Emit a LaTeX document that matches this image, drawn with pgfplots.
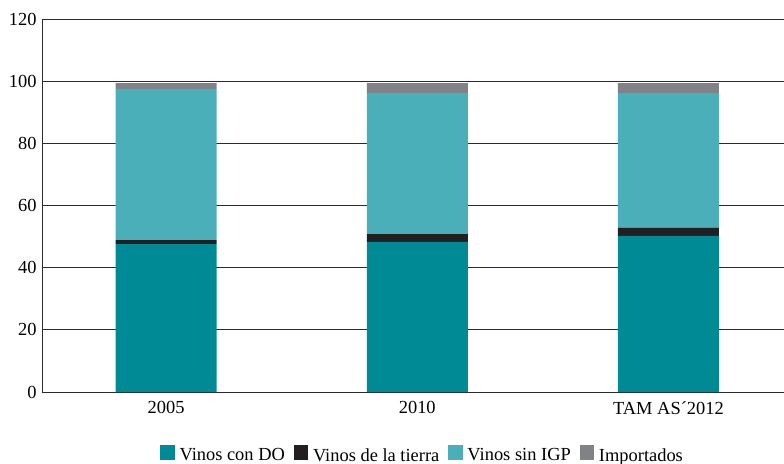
\documentclass[border=0pt]{standalone}
\usepackage{pgfplots}
\pgfplotsset{compat=1.18}
\usepackage{fontspec}
\setmainfont{Liberation Serif}
\definecolor{cDO}{HTML}{008A96}
\definecolor{cTierra}{HTML}{231F20}
\definecolor{cSinIGP}{HTML}{4BAFBA}
\definecolor{cImp}{HTML}{808285}
\definecolor{cgrid}{HTML}{2B2B2B}

\begin{document}
\begin{tikzpicture}[font=\fontsize{18.5}{22}\selectfont]
\useasboundingbox (-42bp,-72bp) rectangle (742bp,392bp);
\begin{axis}[
    scale only axis,
    width=742bp, height=373bp,
    ybar stacked,
    bar width=101bp,
    ymin=0, ymax=120,
    ytick={0,20,...,120},
    yticklabels={0,20,40,60,80,100,120},
    xmin=-0.494, xmax=2.46,
    xtick={0,1,2},
    xticklabels={2005,2010,TAM AS´2012},
    axis x line*=bottom,
    axis y line*=left,
    axis line style={cgrid, line width=0.9pt, -},
    ymajorgrids,
    grid style={cgrid, line width=0.9pt},
    major tick length=0pt,
    tick style={draw=none},
    yticklabel style={xshift=-2pt},
    xticklabel style={yshift=-6pt},
    legend columns=4,
    legend style={at={(0.513,-0.14)}, anchor=north, draw=none, inner sep=1pt,
        /tikz/every odd column/.append style={column sep=3pt},
        /tikz/every even column/.append style={column sep=7pt}},
    legend image code/.code={\fill[#1] (0cm,-0.14cm) rectangle (0.5cm,0.36cm);},
    legend cell align=left,
]
\addplot[fill=cDO, draw=none] coordinates {(0,47.6) (1,48.3) (2,50.2)};
\addplot[fill=cTierra, draw=none] coordinates {(0,1.3) (1,2.5) (2,2.6)};
\addplot[fill=cSinIGP, draw=none] coordinates {(0,48.6) (1,45.4) (2,43.4)};
\addplot[fill=cImp, draw=none] coordinates {(0,1.9) (1,3.2) (2,3.2)};
\legend{Vinos con DO, Vinos de la tierra, Vinos sin IGP, Importados}
\end{axis}
\end{tikzpicture}
\end{document}
